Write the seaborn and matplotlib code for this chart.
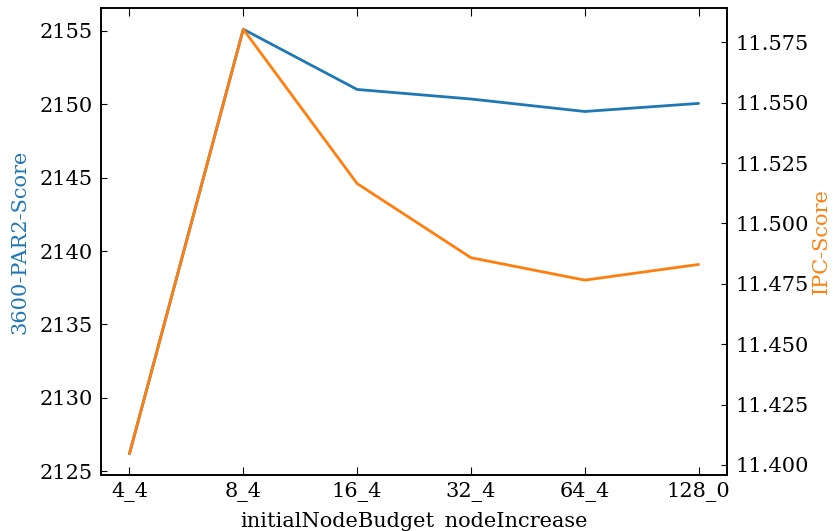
import matplotlib
matplotlib.use("Agg")
import matplotlib.pyplot as plt
import seaborn as sns
import pandas as pd

categories = ["4_4", "8_4", "16_4", "32_4", "64_4", "128_0"]
par2_scores = [2126.2, 2155.1, 2151.0, 2150.35, 2149.5, 2150.05]
ipc_scores = [11.4046, 11.5804, 11.5165, 11.4858, 11.4765, 11.4830]

sns.set_style("ticks")
plt.rcParams["font.family"] = ["DejaVu Serif"]
plt.rcParams["font.size"] = 15
plt.rcParams["xtick.direction"] = "in"
plt.rcParams["ytick.direction"] = "in"
plt.rcParams["text.color"] = "black"
plt.rcParams["axes.labelcolor"] = "black"
plt.rcParams["xtick.color"] = "black"
plt.rcParams["ytick.color"] = "black"
plt.rcParams["axes.edgecolor"] = "black"

df = pd.DataFrame({"cat": categories, "par2": par2_scores, "ipc": ipc_scores})
df["x"] = range(len(categories))

fig = plt.figure(figsize=(8.33, 5.31), dpi=100)
ax = fig.add_axes([101 / 833, 1 - 475 / 531, (727 - 101) / 833, (475 - 8) / 531])
sns.lineplot(data=df, x="x", y="par2", ax=ax, color="#1f77b4", linewidth=2)
ax2 = ax.twinx()
sns.lineplot(data=df, x="x", y="ipc", ax=ax2, color="#ff7f0e", linewidth=2)

ax.set_xticks(range(len(categories)))
ax.set_xticklabels(categories)
ax.set_xlabel("initialNodeBudget_nodeIncrease", labelpad=7)
ax.set_ylabel("3600-PAR2-Score", color="#1f77b4", labelpad=7)
ax2.set_ylabel("IPC-Score", color="#ff7f0e", labelpad=2)
ax.set_yticks([2125, 2130, 2135, 2140, 2145, 2150, 2155])
ipc_ticks = [11.400, 11.425, 11.450, 11.475, 11.500, 11.525, 11.550, 11.575]
ax2.set_yticks(ipc_ticks)
ax2.set_yticklabels([f"{v:.3f}" for v in ipc_ticks])
ax.tick_params(axis="x", top=True, direction="in", length=6, pad=5)
ax.tick_params(axis="y", direction="in", length=4, pad=6)
ax2.tick_params(axis="y", direction="in", length=4, pad=6)
for a in (ax, ax2):
    for s in a.spines.values():
        s.set_linewidth(1.2)

fig.savefig("out.png", dpi=100)
